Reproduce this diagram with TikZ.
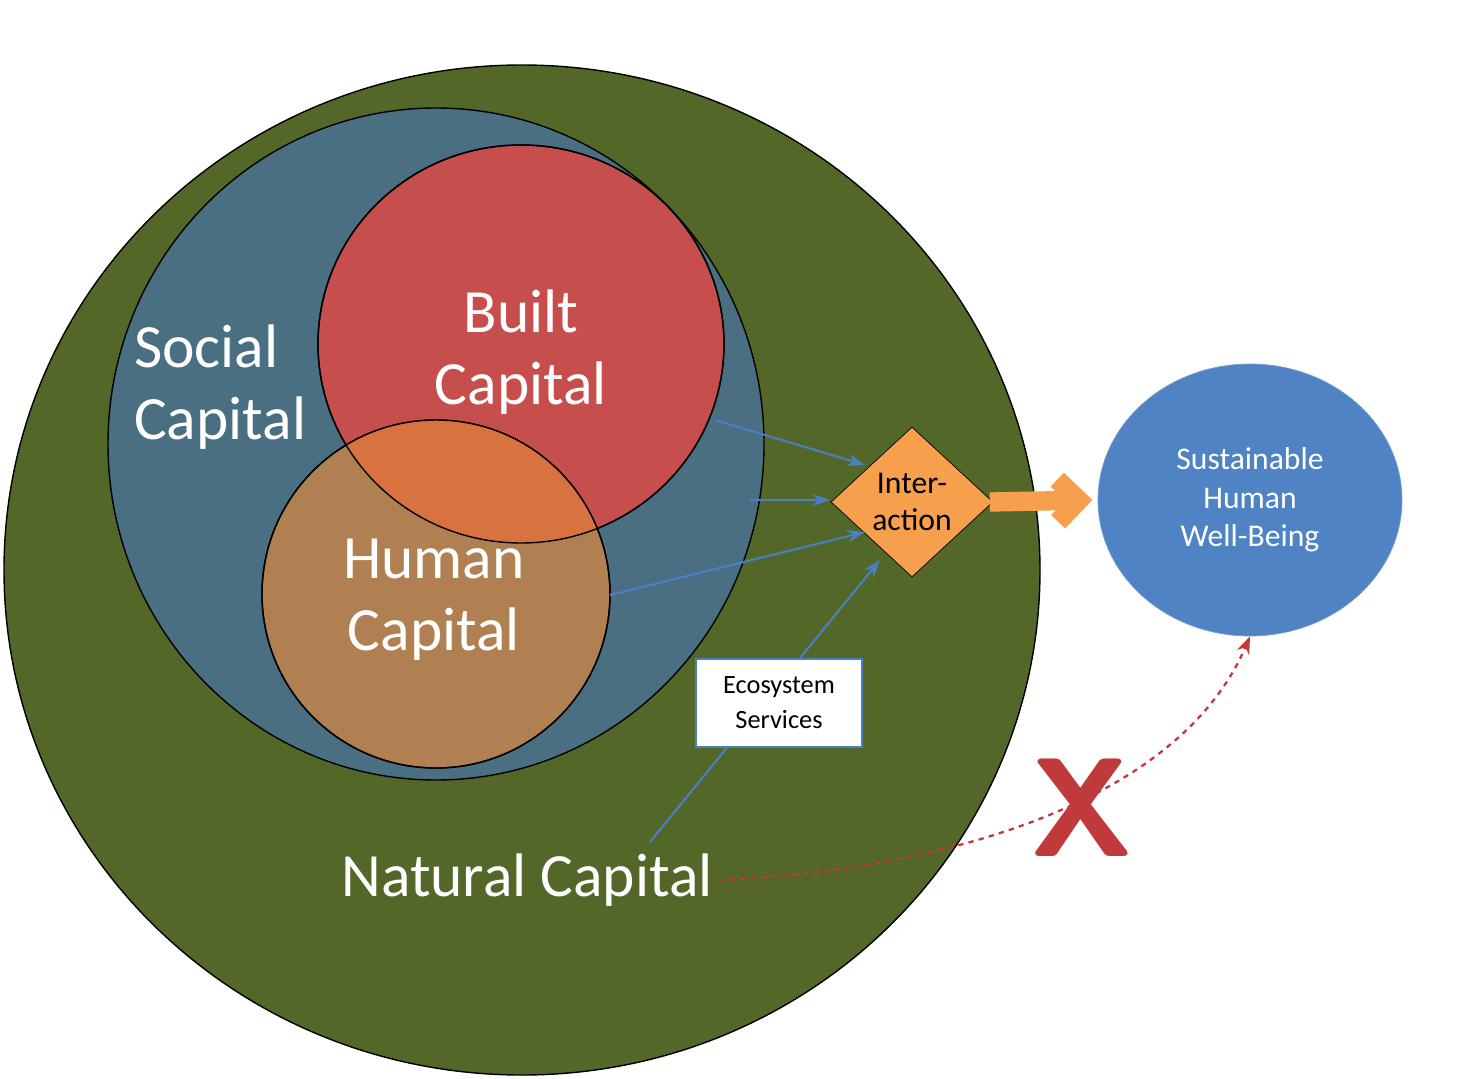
\documentclass[tikz,border=0pt]{standalone}
\usepackage{fontspec}
\setmainfont{Carlito}
\usetikzlibrary{shapes.geometric,arrows.meta}
\definecolor{natg}{HTML}{536828}
\definecolor{socb}{HTML}{4B6F82}
\definecolor{bltr}{HTML}{C64F4E}
\definecolor{humb}{HTML}{B07F52}
\definecolor{ovl}{HTML}{D8733F}
\definecolor{dia}{HTML}{F6A04E}
\definecolor{shw}{HTML}{4F83C4}
\definecolor{arb}{HTML}{4A7FC0}
\definecolor{redx}{HTML}{C0393B}
\tikzset{
 big/.style={text=white,font=\fontsize{35}{41}\selectfont,align=center},
 link/.style={draw=arb,line width=1.2pt,-{Stealth[length=10pt,width=7pt]}}
}
\begin{document}
\begin{tikzpicture}[x=0.02cm,y=-0.02cm]
\useasboundingbox (0,0) rectangle (1470,1078);
\fill[white] (0,0) rectangle (1470,1078);
\draw[fill=natg,line width=0.8pt] (522,570) ellipse [x radius=518,y radius=505];
\draw[fill=socb,line width=0.8pt] (436,444) ellipse [x radius=328,y radius=336];
\draw[fill=bltr,line width=0.8pt] (521,344) ellipse [x radius=203,y radius=199];
\draw[fill=humb,line width=0.8pt] (436,594) circle [radius=174];
\begin{scope}
\clip (521,344) ellipse [x radius=203,y radius=199];
\fill[ovl] (436,594) circle [radius=174];
\end{scope}
\draw[line width=0.8pt] (521,344) ellipse [x radius=203,y radius=199];
\draw[line width=0.8pt] (436,594) circle [radius=174];
\node[big,align=left,anchor=west] (soc) at (128,387) {Social\\Capital};
\node[big] (blt) at (521,352) {Built\\Capital};
\node[big] (hum) at (434,600) {Human\\Capital};
\node[big] (nat) at (527,880) {Natural Capital};
\node[diamond,draw,fill=dia,minimum width=3.24cm,minimum height=3.0cm,inner sep=0pt,align=center,font=\fontsize{18}{21}\selectfont] (int) at (912,502) {Inter-\\action};
\node[ellipse,fill=shw,draw=shw!80!white,minimum width=6.08cm,minimum height=5.44cm,text=white,align=center,font=\fontsize{18}{22}\selectfont] (shw) at (1250,500) {Sustainable\\Human\\Well-Being};
\draw[dia,line width=11pt,-{Straight Barb[length=12pt,width=24pt]}] ([xshift=-2pt]int.east) -- ([xshift=-3pt]shw.west);
\coordinate (b1) at (715,420);
\coordinate (b2) at (750,500);
\coordinate (h1) at (610,595);
\draw[link] (b1) -- (865,465);
\draw[link] (b2) -- (830,500);
\draw[link] (h1) -- (865,532);
\draw[link] (650,842) -- (880,560);
\node[draw=arb,fill=white,line width=1pt,minimum width=3.32cm,minimum height=1.76cm,align=center,font=\fontsize{15}{20}\selectfont] (eco) at (779,703) {Ecosystem\\Services};
\draw[redx,dashed,line width=1.3pt,-{Stealth[length=10pt]}] (nat.east) .. controls (950,870) and (1180,800) .. (shw.south);
\node[text=redx,font=\fontsize{80}{80}\selectfont\sffamily\bfseries] (x) at (1082,808) {X};
\end{tikzpicture}
\end{document}
